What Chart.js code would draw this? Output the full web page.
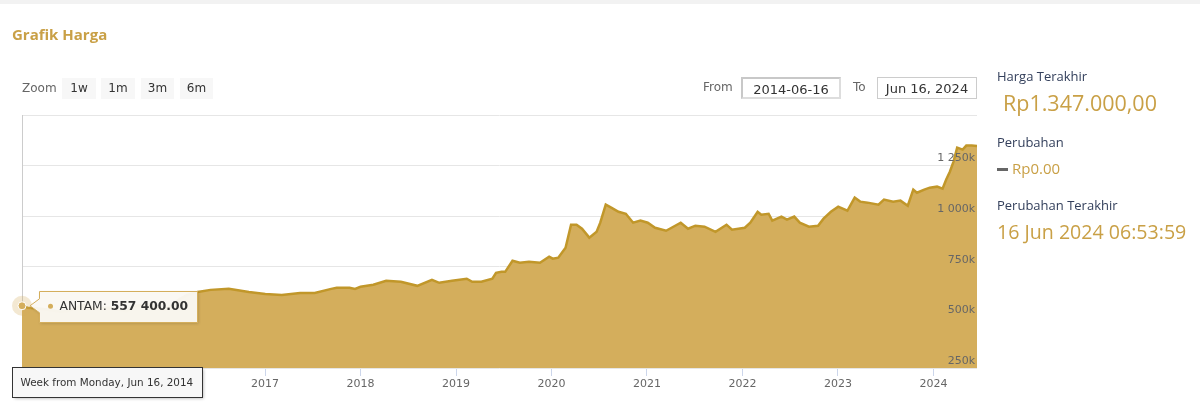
<!DOCTYPE html>
<html>
<head>
<meta charset="utf-8">
<title>Grafik Harga</title>
<script src="https://cdn.jsdelivr.net/npm/chart.js@4.4.0/dist/chart.umd.min.js"></script>
<style>
  body { margin: 0; background: #fff; font-family: "DejaVu Sans", sans-serif; }
  #page { position: relative; width: 1200px; height: 407px; overflow: hidden; }
  #wrap { position: absolute; left: 0; top: 0; width: 1200px; height: 407px; }
  .topbar { position: absolute; left: 0; top: 0; width: 1200px; height: 4px; background: #f2f2f2; }
  .title { position: absolute; left: 12px; top: 24px; font: 700 15px "Open Sans"; color: #c9a046; }
  .zoomlbl { position: absolute; left: 22px; top: 81px; font-size: 12px; color: #666; }
  .btn { position: absolute; top: 78px; height: 21px; line-height: 21px; background: #f7f7f7;
         font-size: 12px; color: #333; text-align: center; }
  .lbl { position: absolute; top: 80px; font-size: 12px; color: #666; }
  .inp { position: absolute; top: 77px; height: 22px; line-height: 22px; width: 100px; box-sizing: border-box;
         font-size: 13px; color: #333; text-align: center; background: #fff; }
  .inp1 { border: 2px solid #c8c8c8; border-bottom-color: #ddd; border-right-color: #ddd; }
  .inp2 { border: 1px solid #cccccc; }
  .side { position: absolute; left: 997px; font-family: "Open Sans"; white-space: nowrap; }
  .sl { font-size: 13px; color: #34405c; }
  .sv { color: #c9a046; }
  .dash { display: inline-block; width: 11px; height: 3px; background: #666; vertical-align: middle; margin-right: 4px; }
</style>
</head>
<body>
<div id="page">
  <div id="wrap"><canvas id="chart_harga"></canvas></div>
  <div class="topbar"></div>
  <div class="title">Grafik Harga</div>
  <div class="zoomlbl">Zoom</div>
  <div class="btn" style="left:62px;width:34px">1w</div>
  <div class="btn" style="left:101px;width:34px">1m</div>
  <div class="btn" style="left:141px;width:33px">3m</div>
  <div class="btn" style="left:180px;width:33px">6m</div>
  <div class="lbl" style="left:703px">From</div>
  <div class="inp inp1" style="left:741px">2014-06-16</div>
  <div class="lbl" style="left:853px">To</div>
  <div class="inp inp2" style="left:877px">Jun 16, 2024</div>

  <div class="side sl" style="top:67px">Harga Terakhir</div>
  <div class="side sv" style="top:88px;left:1003px;font-size:21.5px">Rp1.347.000,00</div>
  <div class="side sl" style="top:133px">Perubahan</div>
  <div class="side sv" style="top:158px;font-size:15px"><span class="dash"></span>Rp0.00</div>
  <div class="side sl" style="top:196px">Perubahan Terakhir</div>
  <div class="side sv" style="top:218px;font-size:19.6px">16 Jun 2024 06:53:59</div>
</div>

<script>
var seriesName = 'ANTAM';

var dates = [
  '2014-06-16', '2014-07-07', '2014-08-04', '2014-09-08', '2014-10-06', '2014-11-10', '2014-12-08',
  '2015-01-12', '2015-02-09', '2015-03-16', '2015-04-13', '2015-05-18', '2015-06-15', '2015-07-20',
  '2015-08-17', '2015-09-14', '2015-10-19', '2015-11-16', '2015-12-14', '2016-01-11', '2016-02-08',
  '2016-03-07', '2016-04-18', '2016-06-06', '2016-08-15', '2016-10-31', '2017-01-02', '2017-03-06',
  '2017-05-15', '2017-07-10', '2017-09-11', '2017-10-02', '2017-11-20', '2017-12-11', '2018-01-01',
  '2018-02-19', '2018-04-09', '2018-06-04', '2018-08-06', '2018-10-01', '2018-10-29', '2018-12-17',
  '2019-02-11', '2019-03-04', '2019-04-08', '2019-05-20', '2019-06-03', '2019-06-24', '2019-07-08',
  '2019-08-05', '2019-09-02', '2019-10-07', '2019-11-18', '2019-12-23', '2020-01-06', '2020-01-27',
  '2020-02-24', '2020-03-16', '2020-04-06', '2020-04-27', '2020-05-25', '2020-06-22', '2020-07-06',
  '2020-07-27', '2020-08-17', '2020-09-14', '2020-10-12', '2020-11-09', '2020-12-07', '2021-01-04',
  '2021-02-01', '2021-03-15', '2021-04-05', '2021-05-10', '2021-06-07', '2021-07-05', '2021-08-09',
  '2021-09-20', '2021-11-01', '2021-11-22', '2022-01-10', '2022-01-31', '2022-02-28', '2022-03-14',
  '2022-04-11', '2022-04-25', '2022-05-30', '2022-06-20', '2022-07-18', '2022-08-08', '2022-09-12',
  '2022-10-17', '2022-11-07', '2022-12-05', '2023-01-02', '2023-02-06', '2023-03-06', '2023-03-27',
  '2023-04-24', '2023-06-05', '2023-06-26', '2023-07-31', '2023-08-28', '2023-09-25', '2023-10-16',
  '2023-10-30', '2023-11-27', '2023-12-18', '2024-01-15', '2024-02-05', '2024-02-19', '2024-03-04',
  '2024-03-18', '2024-04-01', '2024-04-22', '2024-05-06', '2024-05-27', '2024-06-16'
];

var prices = [
  557400, 548000, 545000, 540000, 535000, 528000, 532000,
  550000, 560000, 548000, 545000, 548000, 542000, 530000,
  555000, 560000, 565000, 545000, 540000, 560000, 590000,
  610000, 626000, 636000, 641000, 626000, 616000, 611000,
  621000, 621000, 641000, 646000, 646000, 641000, 651000,
  661000, 681000, 676000, 656000, 686000, 671000, 681000,
  691000, 676000, 676000, 691000, 720000, 725000, 725000,
  780000, 770000, 775000, 770000, 800000, 790000, 795000,
  844000, 958000, 958000, 938000, 894000, 923000, 968000,
  1057000, 1042000, 1022000, 1012000, 968000, 978000, 968000,
  943000, 928000, 943000, 968000, 938000, 953000, 948000,
  923000, 958000, 933000, 943000, 968000, 1022000, 1007000,
  1012000, 978000, 998000, 983000, 998000, 968000, 948000,
  953000, 988000, 1022000, 1047000, 1027000, 1092000, 1072000,
  1067000, 1057000, 1082000, 1072000, 1077000, 1052000, 1131000,
  1116000, 1131000, 1141000, 1146000, 1136000, 1181000, 1220000,
  1270000, 1339000, 1329000, 1349000, 1349000, 1347000
];

var yearTicks = [2015, 2016, 2017, 2018, 2019, 2020, 2021, 2022, 2023, 2024];
var priceTicks = [250000, 500000, 750000, 1000000, 1250000, 1500000];

// date string -> decimal year, so a plain linear axis can be used
function toYear(s) {
  var p = s.split('-').map(Number);
  var start = Date.UTC(p[0], 0, 1), end = Date.UTC(p[0] + 1, 0, 1);
  return p[0] + (Date.UTC(p[0], p[1] - 1, p[2]) - start) / (end - start);
}
var xs = dates.map(toYear);
var points = xs.map(function (x, i) { return {x: x, y: prices[i]}; });

function groupK(n) {
  return String(n).replace(/\B(?=(\d{3})+(?!\d))/g, ' ');
}
function fmtPrice(v) {
  var parts = v.toFixed(2).split('.');
  return groupK(parts[0]) + '.' + parts[1];
}
var months = ['Jan', 'Feb', 'Mar', 'Apr', 'May', 'Jun', 'Jul', 'Aug', 'Sep', 'Oct', 'Nov', 'Dec'];
var days = ['Sunday', 'Monday', 'Tuesday', 'Wednesday', 'Thursday', 'Friday', 'Saturday'];
function weekLabel(s) {
  var p = s.split('-').map(Number);
  var d = new Date(Date.UTC(p[0], p[1] - 1, p[2]));
  return 'Week from ' + days[d.getUTCDay()] + ', ' + months[p[1] - 1] + ' ' + p[2] + ', ' + p[0];
}

var gold = '#d4ae5c';
var goldLine = '#c1972a';

// hovered first point: crosshair, marker, tooltip and the x label box
var hoverPlugin = {
  id: 'hoverFirst',
  beforeDatasetsDraw: function (chart) {
    var ctx = chart.ctx, a = chart.chartArea;
    var px = Math.round(chart.scales.x.getPixelForValue(xs[0])) + 0.5;
    ctx.save();
    ctx.strokeStyle = '#cccccc';
    ctx.lineWidth = 1;
    ctx.beginPath();
    ctx.moveTo(px, a.top);
    ctx.lineTo(px, a.bottom);
    ctx.stroke();
    ctx.restore();
  },
  afterDraw: function (chart) {
    var ctx = chart.ctx, a = chart.chartArea;
    var px = chart.scales.x.getPixelForValue(xs[0]);
    var py = chart.scales.y.getPixelForValue(prices[0]);
    ctx.save();

    // halo + marker
    ctx.fillStyle = 'rgba(212,174,92,0.28)';
    ctx.beginPath(); ctx.arc(px, py, 10, 0, Math.PI * 2); ctx.fill();
    ctx.fillStyle = gold;
    ctx.strokeStyle = '#ffffff';
    ctx.lineWidth = 1;
    ctx.beginPath(); ctx.arc(px, py, 4, 0, Math.PI * 2); ctx.fill(); ctx.stroke();

    // tooltip
    var f1 = '12.3px "DejaVu Sans"', f2 = 'bold 12.3px "DejaVu Sans"';
    var t1 = seriesName + ': ', t2 = fmtPrice(prices[0]);
    ctx.font = f1; var w1 = ctx.measureText(t1).width;
    ctx.font = f2; var w2 = ctx.measureText(t2).width;
    var bx = Math.round(px + 17) + 0.5, bh = 31, by = Math.round(py - 15) + 0.5;
    var bw = Math.round(20 + w1 + w2 + 9);
    ctx.beginPath();
    ctx.moveTo(bx, by);
    ctx.lineTo(bx + bw, by);
    ctx.lineTo(bx + bw, by + bh);
    ctx.lineTo(bx, by + bh);
    ctx.lineTo(bx, py + 7);
    ctx.lineTo(px + 8, py);
    ctx.lineTo(bx, py - 7);
    ctx.closePath();
    ctx.shadowColor = 'rgba(0,0,0,0.18)';
    ctx.shadowBlur = 3; ctx.shadowOffsetX = 1; ctx.shadowOffsetY = 1;
    ctx.fillStyle = 'rgba(251,249,244,0.96)';
    ctx.fill();
    ctx.shadowColor = 'transparent';
    ctx.strokeStyle = gold;
    ctx.lineWidth = 1;
    ctx.stroke();
    ctx.fillStyle = gold;
    ctx.beginPath(); ctx.arc(bx + 11, py + 0.5, 2.5, 0, Math.PI * 2); ctx.fill();
    ctx.textBaseline = 'middle';
    ctx.fillStyle = '#333333';
    ctx.font = f1; ctx.fillText(t1, bx + 20, py + 1);
    ctx.font = f2; ctx.fillText(t2, bx + 20 + w1, py + 1);

    // x crosshair label
    var lt = weekLabel(dates[0]);
    ctx.font = '10.4px "DejaVu Sans"';
    var lw = Math.round(ctx.measureText(lt).width + 17);
    var lx = Math.round(px - 10) + 0.5, ly = Math.round(a.bottom) - 0.5, lh = 30;
    ctx.shadowColor = 'rgba(0,0,0,0.3)';
    ctx.shadowBlur = 3; ctx.shadowOffsetX = 1; ctx.shadowOffsetY = 1;
    ctx.fillStyle = '#f7f7f7';
    ctx.fillRect(lx, ly, lw, lh);
    ctx.shadowColor = 'transparent';
    ctx.strokeStyle = '#333333';
    ctx.strokeRect(lx, ly, lw, lh);
    ctx.fillStyle = '#333333';
    ctx.fillText(lt, lx + 8, ly + lh / 2 + 1);
    ctx.restore();
  }
};

var config = {
  type: 'line',
  data: {
    datasets: [{
      label: seriesName,
      data: points,
      borderColor: goldLine,
      backgroundColor: gold,
      borderWidth: 2.5,
      pointRadius: 0,
      tension: 0,
      fill: 'start'
    }]
  },
  options: {
    responsive: true,
    maintainAspectRatio: false,
    animation: false,
    events: [],
    layout: { padding: { left: 22, right: 223, top: 115, bottom: 9 } },
    plugins: { legend: { display: false }, tooltip: { enabled: false } },
    scales: {
      x: {
        type: 'linear',
        min: xs[0],
        max: xs[xs.length - 1],
        afterBuildTicks: function (s) { s.ticks = yearTicks.map(function (v) { return {value: v}; }); },
        afterFit: function (s) { s.height = 30; },
        grid: { drawOnChartArea: false, drawTicks: true, tickLength: 8, tickColor: '#ccd6eb' },
        border: { display: false },
        ticks: {
          maxRotation: 0,
          autoSkip: false,
          padding: 2,
          color: '#666666',
          font: { family: 'DejaVu Sans', size: 11 },
          callback: function (v) { return String(v); }
        }
      },
      y: {
        position: 'right',
        min: priceTicks[0],
        max: priceTicks[priceTicks.length - 1],
        afterBuildTicks: function (s) { s.ticks = priceTicks.map(function (v) { return {value: v}; }); },
        afterFit: function (s) { s.width = 0; },
        grid: { color: '#e6e6e6', drawTicks: false },
        border: { display: false },
        ticks: {
          mirror: true,
          z: 1,
          padding: -2,
          labelOffset: -7,
          color: '#666666',
          font: { family: 'DejaVu Sans', size: 11 },
          callback: function (v) { return v === 1500000 ? '' : groupK(v / 1000) + 'k'; }
        }
      }
    }
  },
  plugins: [hoverPlugin]
};

new Chart(document.getElementById('chart_harga'), config);
</script>
</body>
</html>
